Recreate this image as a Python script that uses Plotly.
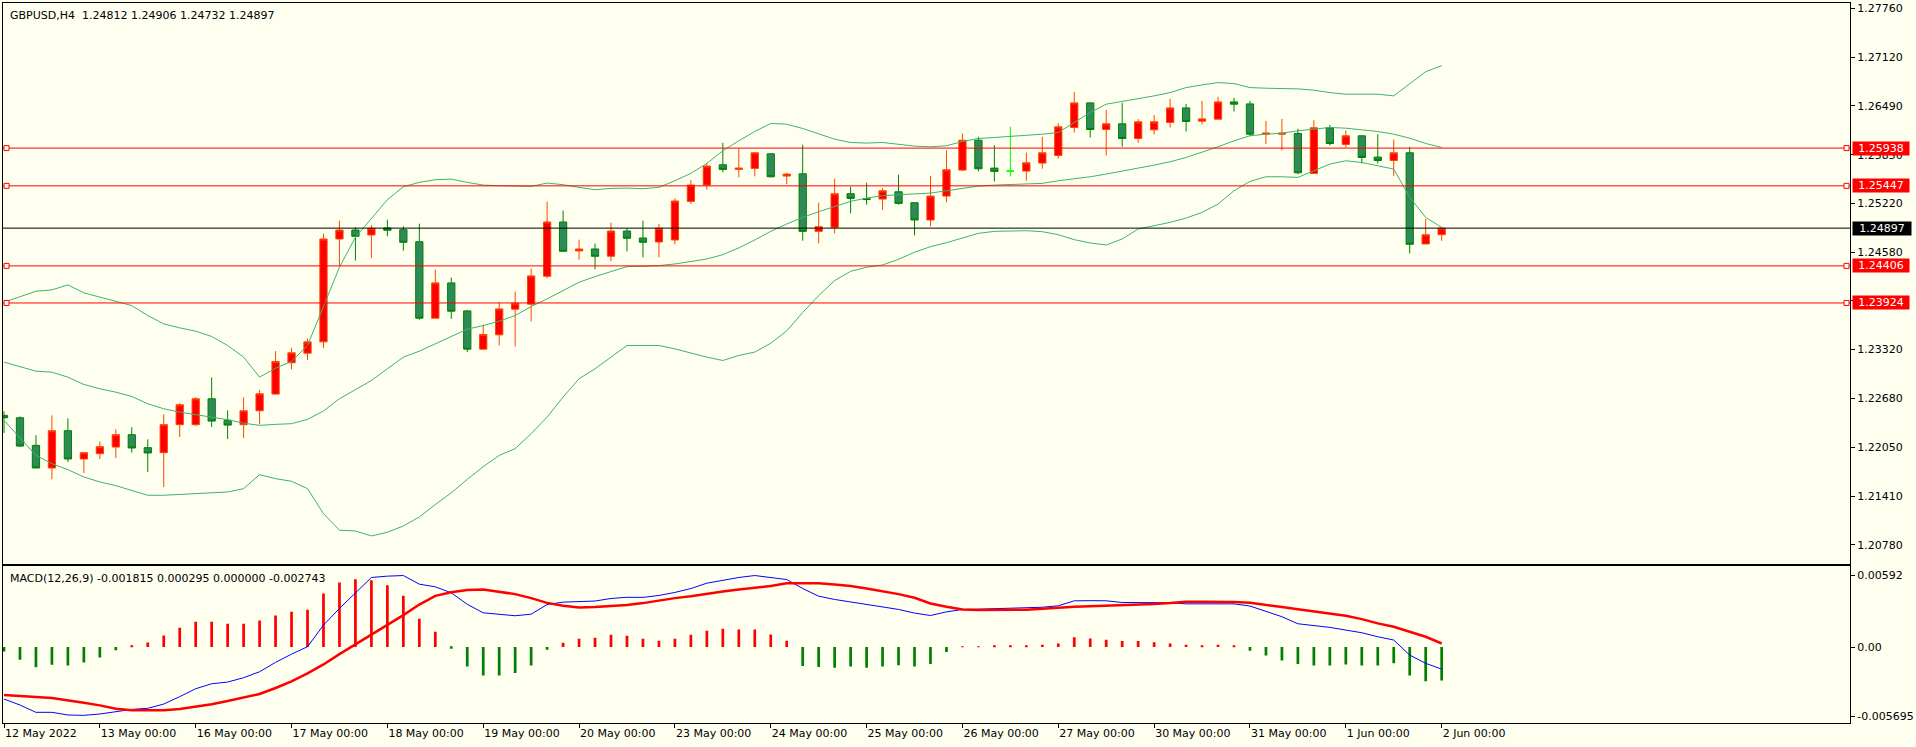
import plotly.graph_objects as go

# ---------------- data (GBPUSD H4, 12 May 2022 00:00 .. 2 Jun 2022 00:00) ----------------
open_ = [1.22462, 1.22431, 1.22072, 1.21778, 1.22263, 1.21895, 1.21964, 1.22050, 1.22211, 1.22042,
         1.21977, 1.22341, 1.22341, 1.22678, 1.22397, 1.22341, 1.22522, 1.22739, 1.23146, 1.23271,
         1.23418, 1.24756, 1.24873, 1.24808, 1.24899, 1.24877, 1.24721, 1.23726, 1.24185, 1.23821,
         1.23323, 1.23509, 1.23843, 1.23908, 1.24271, 1.24977, 1.24600, 1.24626, 1.24531, 1.24860,
         1.24769, 1.24717, 1.24743, 1.25245, 1.25457, 1.25721, 1.25661, 1.25674, 1.25864, 1.25574,
         1.25604, 1.24855, 1.24907, 1.25345, 1.25280, 1.25275, 1.25370, 1.25228, 1.25003, 1.25314,
         1.25652, 1.26041, 1.25678, 1.25639, 1.25639, 1.25743, 1.25842, 1.26206, 1.26526, 1.26180,
         1.26254, 1.26063, 1.26176, 1.26271, 1.26461, 1.26288, 1.26314, 1.26539, 1.26513, 1.26119,
         1.26119, 1.26128, 1.25609, 1.26202, 1.25985, 1.26098, 1.25821, 1.25777, 1.25877, 1.24691,
         1.24812]
high = [1.22514, 1.22449, 1.22202, 1.22462, 1.22423, 1.21986, 1.22124, 1.22280, 1.22306, 1.22150,
        1.22475, 1.22622, 1.22700, 1.22955, 1.22527, 1.22696, 1.22795, 1.23297, 1.23341, 1.23462,
        1.24825, 1.24994, 1.24908, 1.24938, 1.25007, 1.24921, 1.24955, 1.24358, 1.24254, 1.23834,
        1.23643, 1.23938, 1.24072, 1.24371, 1.25241, 1.25124, 1.24747, 1.24695, 1.24968, 1.24899,
        1.24994, 1.24951, 1.25284, 1.25522, 1.25743, 1.26007, 1.25933, 1.25890, 1.25870, 1.25617,
        1.25981, 1.25228, 1.25539, 1.25435, 1.25487, 1.25418, 1.25591, 1.25228, 1.25578, 1.25907,
        1.26128, 1.26085, 1.25977, 1.26215, 1.25881, 1.26085, 1.26262, 1.26669, 1.26530, 1.26435,
        1.26526, 1.26314, 1.26366, 1.26578, 1.26513, 1.26552, 1.26604, 1.26591, 1.26552, 1.26293,
        1.26318, 1.26189, 1.26301, 1.26241, 1.26167, 1.26098, 1.26119, 1.26050, 1.25955, 1.25016,
        1.24906]
low = [1.22232, 1.22050, 1.21775, 1.21631, 1.21856, 1.21713, 1.21895, 1.21908, 1.21977, 1.21726,
       1.21531, 1.22180, 1.22323, 1.22310, 1.22154, 1.22167, 1.22345, 1.22730, 1.23063, 1.23180,
       1.23336, 1.24410, 1.24475, 1.24505, 1.24791, 1.24605, 1.23704, 1.23726, 1.23717, 1.23284,
       1.23323, 1.23371, 1.23358, 1.23683, 1.24245, 1.24596, 1.24488, 1.24362, 1.24466, 1.24596,
       1.24518, 1.24518, 1.24687, 1.25211, 1.25397, 1.25622, 1.25557, 1.25570, 1.25557, 1.25470,
       1.24734, 1.24699, 1.24829, 1.25089, 1.25202, 1.25132, 1.25202, 1.24803, 1.24920, 1.25232,
       1.25643, 1.25635, 1.25505, 1.25570, 1.25513, 1.25669, 1.25803, 1.26141, 1.26076, 1.25842,
       1.25955, 1.26007, 1.26115, 1.26206, 1.26154, 1.26245, 1.26314, 1.26414, 1.26093, 1.25990,
       1.25907, 1.25596, 1.25609, 1.25972, 1.25946, 1.25738, 1.25738, 1.25578, 1.24570, 1.24691,
       1.24732]
close = [1.22431, 1.22063, 1.21778, 1.22263, 1.21895, 1.21977, 1.22055, 1.22211, 1.22038, 1.21973,
         1.22341, 1.22600, 1.22678, 1.22388, 1.22336, 1.22522, 1.22743, 1.23163, 1.23276, 1.23418,
         1.24756, 1.24873, 1.24791, 1.24895, 1.24869, 1.24713, 1.23726, 1.24185, 1.23817, 1.23323,
         1.23514, 1.23847, 1.23921, 1.24276, 1.24977, 1.24596, 1.24626, 1.24531, 1.24860, 1.24765,
         1.24713, 1.24895, 1.25250, 1.25457, 1.25704, 1.25661, 1.25678, 1.25877, 1.25565, 1.25600,
         1.24855, 1.24916, 1.25345, 1.25284, 1.25271, 1.25383, 1.25219, 1.25003, 1.25314, 1.25656,
         1.26041, 1.25669, 1.25635, 1.25639, 1.25747, 1.25877, 1.26215, 1.26526, 1.26180, 1.26254,
         1.26063, 1.26280, 1.26280, 1.26461, 1.26284, 1.26318, 1.26539, 1.26509, 1.26119, 1.26132,
         1.26132, 1.25617, 1.26202, 1.25998, 1.26098, 1.25816, 1.25777, 1.25877, 1.24687, 1.24812,
         1.24897]

bb_upper = [1.23934, 1.24000, 1.24076, 1.24094, 1.24159, 1.24055, 1.24000, 1.23947, 1.23890, 1.23760,
            1.23652, 1.23600, 1.23557, 1.23488, 1.23371, 1.23219, 1.22960, 1.23075, 1.23165, 1.23370,
            1.23869, 1.24388, 1.24778, 1.25029, 1.25267, 1.25436, 1.25492, 1.25527, 1.25535, 1.25492,
            1.25457, 1.25449, 1.25449, 1.25440, 1.25483, 1.25462, 1.25427, 1.25397, 1.25414, 1.25418,
            1.25410, 1.25427, 1.25514, 1.25609, 1.25739, 1.25903, 1.26033, 1.26154, 1.26258, 1.26249,
            1.26193, 1.26128, 1.26054, 1.26011, 1.26003, 1.26011, 1.25990, 1.25964, 1.25955, 1.25968,
            1.26024, 1.26063, 1.26076, 1.26089, 1.26098, 1.26119, 1.26141, 1.26271, 1.26401, 1.26509,
            1.26544, 1.26583, 1.26617, 1.26660, 1.26725, 1.26760, 1.26790, 1.26777, 1.26725, 1.26717,
            1.26717, 1.26708, 1.26691, 1.26660, 1.26639, 1.26643, 1.26639, 1.26617, 1.26772, 1.26931,
            1.27010]
bb_middle = [1.23154, 1.23098, 1.23037, 1.23024, 1.22959, 1.22864, 1.22808, 1.22764, 1.22708, 1.22613,
             1.22548, 1.22504, 1.22474, 1.22439, 1.22406, 1.22361, 1.22332, 1.22345, 1.22354, 1.22410,
             1.22518, 1.22678, 1.22795, 1.22916, 1.23068, 1.23219, 1.23297, 1.23392, 1.23492, 1.23583,
             1.23630, 1.23687, 1.23760, 1.23877, 1.23977, 1.24085, 1.24193, 1.24267, 1.24336, 1.24397,
             1.24401, 1.24410, 1.24431, 1.24462, 1.24496, 1.24552, 1.24640, 1.24743, 1.24855, 1.24951,
             1.25037, 1.25111, 1.25176, 1.25245, 1.25288, 1.25319, 1.25331, 1.25340, 1.25353, 1.25383,
             1.25418, 1.25444, 1.25457, 1.25466, 1.25470, 1.25479, 1.25513, 1.25535, 1.25565, 1.25600,
             1.25635, 1.25678, 1.25717, 1.25760, 1.25816, 1.25881, 1.25955, 1.26033, 1.26098, 1.26119,
             1.26132, 1.26163, 1.26184, 1.26206, 1.26197, 1.26176, 1.26154, 1.26119, 1.26067, 1.25998,
             1.25946]
bb_lower = [1.22397, 1.22172, 1.21942, 1.21834, 1.21756, 1.21661, 1.21596, 1.21548, 1.21488, 1.21423,
            1.21423, 1.21436, 1.21444, 1.21453, 1.21466, 1.21509, 1.21691, 1.21639, 1.21605, 1.21509,
            1.21185, 1.20968, 1.20959, 1.20894, 1.20942, 1.21024, 1.21141, 1.21302, 1.21455, 1.21630,
            1.21795, 1.21942, 1.22029, 1.22224, 1.22440, 1.22700, 1.22938, 1.23068, 1.23219, 1.23371,
            1.23371, 1.23371, 1.23327, 1.23271, 1.23219, 1.23176, 1.23241, 1.23285, 1.23400, 1.23560,
            1.23800, 1.24020, 1.24215, 1.24336, 1.24388, 1.24418, 1.24492, 1.24583, 1.24656, 1.24708,
            1.24764, 1.24829, 1.24855, 1.24864, 1.24864, 1.24851, 1.24812, 1.24747, 1.24704, 1.24678,
            1.24756, 1.24886, 1.24929, 1.24972, 1.25028, 1.25102, 1.25210, 1.25383, 1.25505, 1.25565,
            1.25565, 1.25557, 1.25643, 1.25730, 1.25773, 1.25751, 1.25708, 1.25665, 1.25297, 1.25037,
            1.24907]

macd_main = [-0.00428, -0.00477, -0.00537, -0.00537, -0.00559, -0.00562, -0.00551, -0.00532, -0.00513, -0.00504,
             -0.00469, -0.00408, -0.00343, -0.00302, -0.00288, -0.00252, -0.00203, -0.00126, -0.00058, 0.00003,
             0.00181, 0.00318, 0.00447, 0.00573, 0.00584, 0.00589, 0.00518, 0.00496, 0.00447, 0.00352,
             0.00282, 0.00271, 0.00258, 0.00271, 0.00350, 0.00370, 0.00376, 0.00379, 0.00400, 0.00410,
             0.00409, 0.00425, 0.00450, 0.00482, 0.00526, 0.00551, 0.00573, 0.00589, 0.00573, 0.00556,
             0.00482, 0.00419, 0.00392, 0.00373, 0.00354, 0.00332, 0.00310, 0.00280, 0.00260, 0.00290,
             0.00310, 0.00312, 0.00315, 0.00318, 0.00322, 0.00328, 0.00340, 0.00381, 0.00382, 0.00381,
             0.00367, 0.00367, 0.00367, 0.00365, 0.00356, 0.00357, 0.00358, 0.00356, 0.00338, 0.00297,
             0.00250, 0.00192, 0.00178, 0.00162, 0.00140, 0.00118, 0.00085, 0.00058, -0.00066, -0.00134,
             -0.001815]
macd_signal = [-0.00395, -0.00400, -0.00411, -0.00419, -0.00436, -0.00458, -0.00480, -0.00507, -0.00521, -0.00521,
               -0.00521, -0.00510, -0.00493, -0.00471, -0.00444, -0.00414, -0.00386, -0.00337, -0.00282, -0.00217,
               -0.00143, -0.00058, 0.00022, 0.00107, 0.00189, 0.00263, 0.00350, 0.00422, 0.00452, 0.00469,
               0.00474, 0.00458, 0.00436, 0.00403, 0.00364, 0.00340, 0.00326, 0.00329, 0.00337, 0.00346,
               0.00362, 0.00384, 0.00403, 0.00419, 0.00441, 0.00458, 0.00474, 0.00488, 0.00502, 0.00526,
               0.00529, 0.00526, 0.00515, 0.00502, 0.00482, 0.00460, 0.00436, 0.00406, 0.00359, 0.00332,
               0.00310, 0.00305, 0.00304, 0.00305, 0.00308, 0.00315, 0.00325, 0.00332, 0.00337, 0.00340,
               0.00345, 0.00350, 0.00354, 0.00362, 0.00373, 0.00373, 0.00373, 0.00372, 0.00365, 0.00345,
               0.00330, 0.00312, 0.00296, 0.00277, 0.00258, 0.00230, 0.00195, 0.00167, 0.00126, 0.00085,
               0.000295]
macd_hist = [-0.00036, -0.00104, -0.00167, -0.00145, -0.00151, -0.00126, -0.00085, -0.00027, 0.00011, 0.00038,
             0.00096, 0.00159, 0.00208, 0.00208, 0.00192, 0.00192, 0.00219, 0.00260, 0.00291, 0.00307,
             0.00441, 0.00532, 0.00559, 0.00551, 0.00510, 0.00422, 0.00233, 0.00126, -0.00014, -0.00159,
             -0.00233, -0.00233, -0.00214, -0.00151, -0.00022, 0.00036, 0.00069, 0.00077, 0.00101, 0.00093,
             0.00069, 0.00052, 0.00069, 0.00101, 0.00134, 0.00151, 0.00145, 0.00145, 0.00104, 0.00052,
             -0.00155, -0.00165, -0.00170, -0.00160, -0.00170, -0.00160, -0.00150, -0.00160, -0.00140, -0.00040,
             0.00005, 0.00005, 0.00010, 0.00010, 0.00010, 0.00020, 0.00030, 0.00080, 0.00070, 0.00060,
             0.00050, 0.00050, 0.00040, 0.00030, 0.00020, 0.00010, 0.00020, 0.00010, -0.00030, -0.00070,
             -0.00110, -0.00140, -0.00151, -0.00151, -0.00143, -0.00151, -0.00151, -0.00134, -0.00233, -0.00282,
             -0.002743]

time_labels = ["12 May 2022", "13 May 00:00", "16 May 00:00", "17 May 00:00", "18 May 00:00",
               "19 May 00:00", "20 May 00:00", "23 May 00:00", "24 May 00:00", "25 May 00:00",
               "26 May 00:00", "27 May 00:00", "30 May 00:00", "31 May 00:00", "1 Jun 00:00", "2 Jun 00:00"]
price_ticks = [1.27760, 1.27120, 1.26490, 1.25850, 1.25220, 1.24580, 1.23950,
               1.23320, 1.22680, 1.22050, 1.21410, 1.20780]
macd_ticks = [0.00592, 0.0, -0.005695]
macd_tick_text = ["0.00592", "0.00", "-0.005695"]
red_levels = [1.25938, 1.25447, 1.24406, 1.23924]
bid_level = 1.24897
header_text = "GBPUSD,H4\u00a0\u00a01.24812 1.24906 1.24732 1.24897"
macd_text = "MACD(12,26,9) -0.001815 0.000295 0.000000 -0.002743"

# ---------------- figure ----------------
BG = "#FFFFF0"
FONT = "DejaVu Sans"
n = len(close)
xs = list(range(n))
bars_per_day = 6

body_idx = [i for i in xs if open_[i] != close[i]]
doji_idx = [i for i in xs if open_[i] == close[i]]

fig = go.Figure()

fig.add_trace(go.Candlestick(
    x=body_idx,
    open=[open_[i] for i in body_idx], high=[high[i] for i in body_idx],
    low=[low[i] for i in body_idx], close=[close[i] for i in body_idx],
    increasing=dict(line=dict(color="#FF4500", width=1), fillcolor="#FF0000"),
    decreasing=dict(line=dict(color="#008000", width=1), fillcolor="#2E8B57"),
    whiskerwidth=0, xaxis="x", yaxis="y", hoverinfo="skip"))
if doji_idx:
    fig.add_trace(go.Candlestick(
        x=doji_idx,
        open=[open_[i] for i in doji_idx], high=[high[i] for i in doji_idx],
        low=[low[i] for i in doji_idx], close=[close[i] for i in doji_idx],
        increasing=dict(line=dict(color="#00FF00", width=1), fillcolor="#00FF00"),
        decreasing=dict(line=dict(color="#00FF00", width=1), fillcolor="#00FF00"),
        whiskerwidth=0, xaxis="x", yaxis="y", hoverinfo="skip"))

for band in (bb_upper, bb_middle, bb_lower):
    fig.add_trace(go.Scatter(x=xs, y=band, mode="lines",
                             line=dict(color="#3CB371", width=1),
                             xaxis="x", yaxis="y", hoverinfo="skip"))

# MACD panel
fig.add_trace(go.Bar(x=xs, y=macd_hist, width=0.17,
                     marker=dict(color=["#FF0000" if v > 0 else "#008000" for v in macd_hist],
                                 line=dict(width=0)),
                     xaxis="x2", yaxis="y2", hoverinfo="skip"))
fig.add_trace(go.Scatter(x=xs, y=macd_main, mode="lines",
                         line=dict(color="#0000FF", width=1),
                         xaxis="x2", yaxis="y2", hoverinfo="skip"))
fig.add_trace(go.Scatter(x=xs, y=macd_signal, mode="lines",
                         line=dict(color="#FF0000", width=2.5),
                         xaxis="x2", yaxis="y2", hoverinfo="skip"))

shapes = []
annotations = []
for lv in red_levels:
    shapes.append(dict(type="line", xref="x domain", x0=0, x1=1, yref="y", y0=lv, y1=lv,
                       line=dict(color="#FF0000", width=1), layer="above"))
    for anchor, (p0, p1) in ((0, (1, 6)), (1, (-6, -1))):
        shapes.append(dict(type="rect", xref="paper", xsizemode="pixel", xanchor=anchor,
                           x0=p0, x1=p1, yref="y", ysizemode="pixel", yanchor=lv, y0=-2.5, y1=2.5,
                           line=dict(color="#FF0000", width=1), fillcolor=BG, layer="above"))
    annotations.append(dict(xref="paper", x=1, xanchor="left", xshift=2, yref="y", y=lv,
                            text=f"{lv:.5f}", showarrow=False, bgcolor="#FF0000",
                            font=dict(color="white", size=11, family=FONT),
                            width=56, height=13, borderpad=0, align="center", valign="middle"))
shapes.append(dict(type="line", xref="x domain", x0=0, x1=1, yref="y", y0=bid_level, y1=bid_level,
                   line=dict(color="#000000", width=1), layer="above"))
annotations.append(dict(xref="paper", x=1, xanchor="left", xshift=2, yref="y", y=bid_level,
                        text=f"{bid_level:.5f}", showarrow=False, bgcolor="#000000",
                        font=dict(color="white", size=11, family=FONT),
                        width=58, height=13, borderpad=0, align="center", valign="middle"))

annotations.append(dict(xref="paper", yref="paper", x=0, y=1, xanchor="left", yanchor="top",
                        xshift=5, yshift=-4, text=header_text, showarrow=False,
                        font=dict(color="black", size=11, family=FONT)))

main_dom = [0.2205, 1.0]
macd_dom = [0.0, 0.2178]
annotations.append(dict(xref="paper", yref="paper", x=0, y=macd_dom[1], xanchor="left", yanchor="top",
                        xshift=5, yshift=-4, text=macd_text, showarrow=False,
                        font=dict(color="black", size=11, family=FONT)))

x_range = [-0.0625, 115.5625]
axis_common = dict(showgrid=False, zeroline=False, showline=True, mirror=True,
                   linecolor="black", linewidth=1)

fig.update_layout(
    width=1916, height=747,
    margin=dict(l=2, r=64, t=2, b=24),
    paper_bgcolor=BG, plot_bgcolor=BG,
    showlegend=False,
    boxgap=0.35,
    font=dict(family=FONT, size=11, color="black"),
    shapes=shapes, annotations=annotations,
    xaxis=dict(domain=[0, 1], anchor="y", range=x_range, showticklabels=False, ticks="",
               rangeslider=dict(visible=False), **axis_common),
    yaxis=dict(domain=main_dom, anchor="x", side="right", range=[1.20526, 1.27825],
               tickvals=price_ticks, tickformat=".5f", ticks="outside", ticklen=4,
               tickcolor="black", tickfont=dict(size=11, family=FONT, color="black"),
               **axis_common),
    xaxis2=dict(domain=[0, 1], anchor="y2", range=x_range,
                tickvals=[k * bars_per_day for k in range(len(time_labels))], ticktext=time_labels,
                ticks="outside", ticklen=4, tickcolor="black", ticklabelposition="outside right",
                tickfont=dict(size=11, family=FONT, color="black"),
                rangeslider=dict(visible=False), **axis_common),
    yaxis2=dict(domain=macd_dom, anchor="x2", side="right", range=[-0.00625, 0.00666],
                tickvals=macd_ticks, ticktext=macd_tick_text, ticks="outside", ticklen=4,
                tickcolor="black", tickfont=dict(size=11, family=FONT, color="black"),
                **axis_common),
)

fig.write_html(
    "out.html",
    config={"displayModeBar": False},
    post_script=("document.body.style.margin='0';document.body.style.padding='0';"
                 "document.body.style.overflow='hidden';document.body.style.background='%s';" % BG),
)
